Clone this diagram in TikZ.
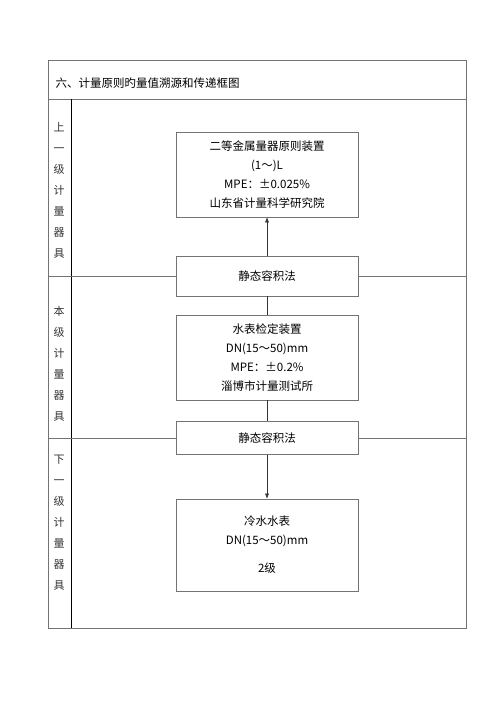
\documentclass[tikz,border=0pt]{standalone}
\usepackage{fontspec}
\setmainfont{Noto Sans CJK SC}
\usetikzlibrary{arrows.meta}
\tikzset{
  kuang/.style={draw=black!55, line width=0.6pt, minimum width=182pt, align=center, inner sep=0pt},
  xian/.style={draw=black!55, line width=0.6pt},
  jiantou/.style={draw=black!80, line width=0.5pt, -{Latex[length=5pt,width=4pt]}},
  lanzi/.style={align=center, font=\fontsize{11pt}{21pt}\selectfont, text=black!80}
}
\begin{document}
\begin{tikzpicture}[x=1pt,y=-1pt,font=\fontsize{11.5pt}{19pt}\selectfont]
\useasboundingbox (0,0) rectangle (500,708);
\draw[xian] (48,60) rectangle (466,628);
\draw[xian] (48,99) -- (466,99);
\draw[black, line width=0.8pt] (71,99) -- (71,628);
\node[anchor=west] (title) at (52,83) {六、计量原则旳量值溯源和传递框图};
\node[lanzi] (shang) at (59,190) {上\\一\\级\\计\\量\\器\\具};
\node[lanzi] (ben) at (59,363.5) {本\\级\\计\\量\\器\\具};
\node[lanzi] (xia) at (59,522.5) {下\\一\\级\\计\\量\\器\\具};
\node[kuang, minimum height=85pt] (a) at (267,174.5) {二等金属量器原则装置\\(1～)L\\MPE：±0.025\%\\山东省计量科学研究院};
\node[kuang, minimum height=40pt] (b) at (267,276) {静态容积法};
\node[kuang, minimum height=85pt] (c) at (267,357.5) {水表检定装置\\DN(15～50)mm\\MPE：±0.2\%\\淄博市计量测试所};
\node[kuang, minimum height=33pt] (d) at (267,438) {静态容积法};
\node[kuang, minimum height=92pt] (e) at (267,545) {冷水水表\\DN(15～50)mm\\[9pt]2级};
\coordinate (l1) at (48,276);
\coordinate (r1) at (466,276);
\coordinate (l2) at (48,438);
\coordinate (r2) at (466,438);
\draw[xian] (l1) -- (b.west);
\draw[xian] (b.east) -- (r1);
\draw[xian] (l2) -- (d.west);
\draw[xian] (d.east) -- (r2);
\draw[jiantou] (b) -- (a);
\draw[black!80, line width=0.5pt] (c) -- (b);
\draw[black!80, line width=0.5pt] (c) -- (d);
\draw[jiantou] (d) -- (e);
\end{tikzpicture}
\end{document}
